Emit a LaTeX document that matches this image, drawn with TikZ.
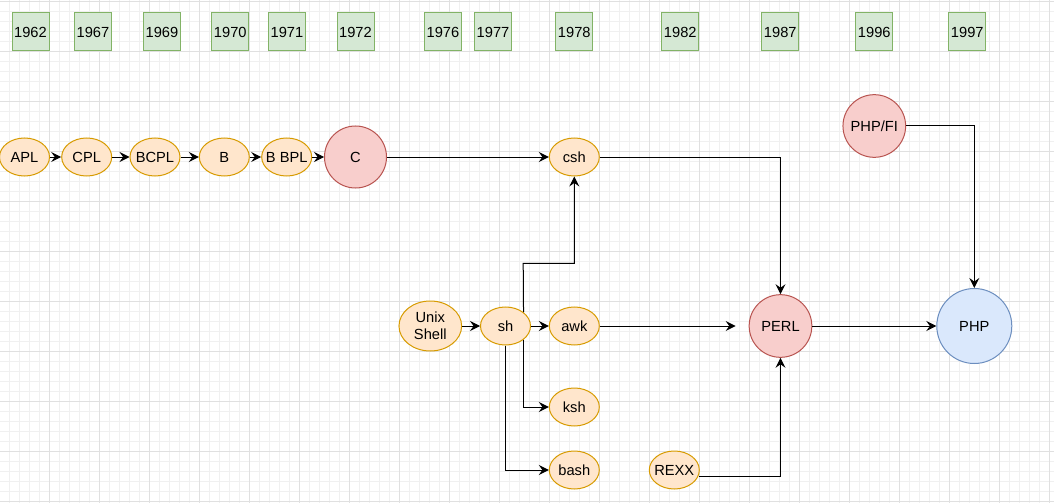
\documentclass[tikz,border=0pt]{standalone}
\usepackage{fontspec}
\setmainfont{Liberation Sans}
\usetikzlibrary{arrows.meta,shapes.geometric}
\definecolor{orF}{HTML}{FFE6CC}
\definecolor{orS}{HTML}{D79B00}
\definecolor{rdF}{HTML}{F8CECC}
\definecolor{rdS}{HTML}{B85450}
\definecolor{blF}{HTML}{DAE8FC}
\definecolor{blS}{HTML}{6C8EBF}
\definecolor{grF}{HTML}{D5E8D4}
\definecolor{grS}{HTML}{82B366}
\definecolor{gridminor}{HTML}{F0F0F0}
\definecolor{gridmajor}{HTML}{E0E0E0}
\tikzset{
  yearbox/.style={rectangle, draw=grS, fill=grF, line width=0.75pt, minimum width=27.75pt, minimum height=28.5pt, inner sep=0pt},
  lang/.style={ellipse, draw=orS, fill=orF, line width=0.75pt, minimum width=37.5pt, minimum height=28.5pt, inner xsep=-2.5pt, inner ysep=0pt, align=center},
  redc/.style={circle, draw=rdS, fill=rdF, line width=0.75pt, minimum size=#1, inner sep=0pt},
  bluec/.style={circle, draw=blS, fill=blF, line width=0.75pt, minimum size=#1, inner sep=0pt},
  conn/.style={draw=black, line width=0.75pt},
  arr/.style={conn, -{Stealth[length=7.5pt, width=7.5pt, inset=2.7pt]}},
}
\begin{document}
\begin{tikzpicture}[x=0.75pt, y=-0.75pt, font=\fontsize{11}{12.5}\selectfont]
\useasboundingbox (0,0) rectangle (1054,503);
\fill[white] (0,0) rectangle (1054,503);
% grid
\foreach \i in {1,...,105} {
  \draw[gridminor, line width=0.5pt] ({-0.7+10*\i},0) -- ({-0.7+10*\i},503);
}
\foreach \i in {0,...,50} {
  \draw[gridminor, line width=0.5pt] (0,{1.7+10*\i}) -- (1054,{1.7+10*\i});
}
\foreach \i in {1,...,21} {
  \draw[gridmajor, line width=0.6pt] ({-0.7+50*\i},0) -- ({-0.7+50*\i},503);
}
\foreach \i in {0,...,10} {
  \draw[gridmajor, line width=0.6pt] (0,{1.7+50*\i}) -- (1054,{1.7+50*\i});
}
% year boxes
\node[yearbox] (y1962) at (30.5,32) {1962};
\node[yearbox] (y1967) at (93,32) {1967};
\node[yearbox] (y1969) at (162,32) {1969};
\node[yearbox] (y1970) at (230.3,32) {1970};
\node[yearbox] (y1971) at (287,32) {1971};
\node[yearbox] (y1972) at (355.5,32) {1972};
\node[yearbox] (y1976) at (443,32) {1976};
\node[yearbox] (y1977) at (493,32) {1977};
\node[yearbox] (y1978) at (574.3,32) {1978};
\node[yearbox] (y1982) at (680.3,32) {1982};
\node[yearbox] (y1987) at (780.3,32) {1987};
\node[yearbox] (y1996) at (874.3,32) {1996};
\node[yearbox] (y1997) at (967.3,32) {1997};
% languages
\node[lang] (apl) at (24.5,157) {APL};
\node[lang] (cpl) at (86.7,157) {CPL};
\node[lang] (bcpl) at (155,157) {BCPL};
\node[lang] (b) at (224.3,157) {B};
\node[lang] (bbpl) at (286.7,157) {B BPL};
\node[redc=46.5pt] (c) at (355.5,157) {C};
\node[lang] (csh) at (574.3,157) {csh};
\node[redc=47pt] (phpfi) at (874.3,126) {PHP/FI};
\node[lang, minimum width=47pt, minimum height=37.5pt, inner xsep=0pt] (unix) at (430.3,326) {Unix\\Shell};
\node[lang] (sh) at (505.5,326) {sh};
\node[lang] (awk) at (574.3,326) {awk};
\node[lang] (ksh) at (574.3,407) {ksh};
\node[lang] (bash) at (574.3,470) {bash};
\node[lang] (rexx) at (674.3,470) {REXX};
\node[redc=47pt] (perl) at (780.5,326) {PERL};
\node[bluec=56.25pt] (php) at (974.3,326) {PHP};
% connectors
\draw[arr] (apl) -- (cpl);
\draw[arr] (cpl) -- (bcpl);
\draw[arr] (bcpl) -- (b);
\draw[arr] (b) -- (bbpl);
\draw[arr] (bbpl) -- (c);
\draw[arr] (c) -- (csh);
\draw[arr] (csh) -| (perl);
\draw[arr] (phpfi) -| (php);
\draw[arr] (unix) -- (sh);
\draw[arr] (sh) -- (awk);
\coordinate (shup) at (523.2,263.3);
\draw[arr] (sh.north east) -- (shup) -| (csh.south);
\draw[arr] (sh.south east) |- (ksh.west);
\draw[arr] (sh.south) |- (bash.west);
\draw[arr, shorten >=9.75pt] (awk) -- (perl);
\draw[arr] (rexx.-14) -| (perl.south);
\draw[arr] (perl) -- (php);
\end{tikzpicture}
\end{document}
